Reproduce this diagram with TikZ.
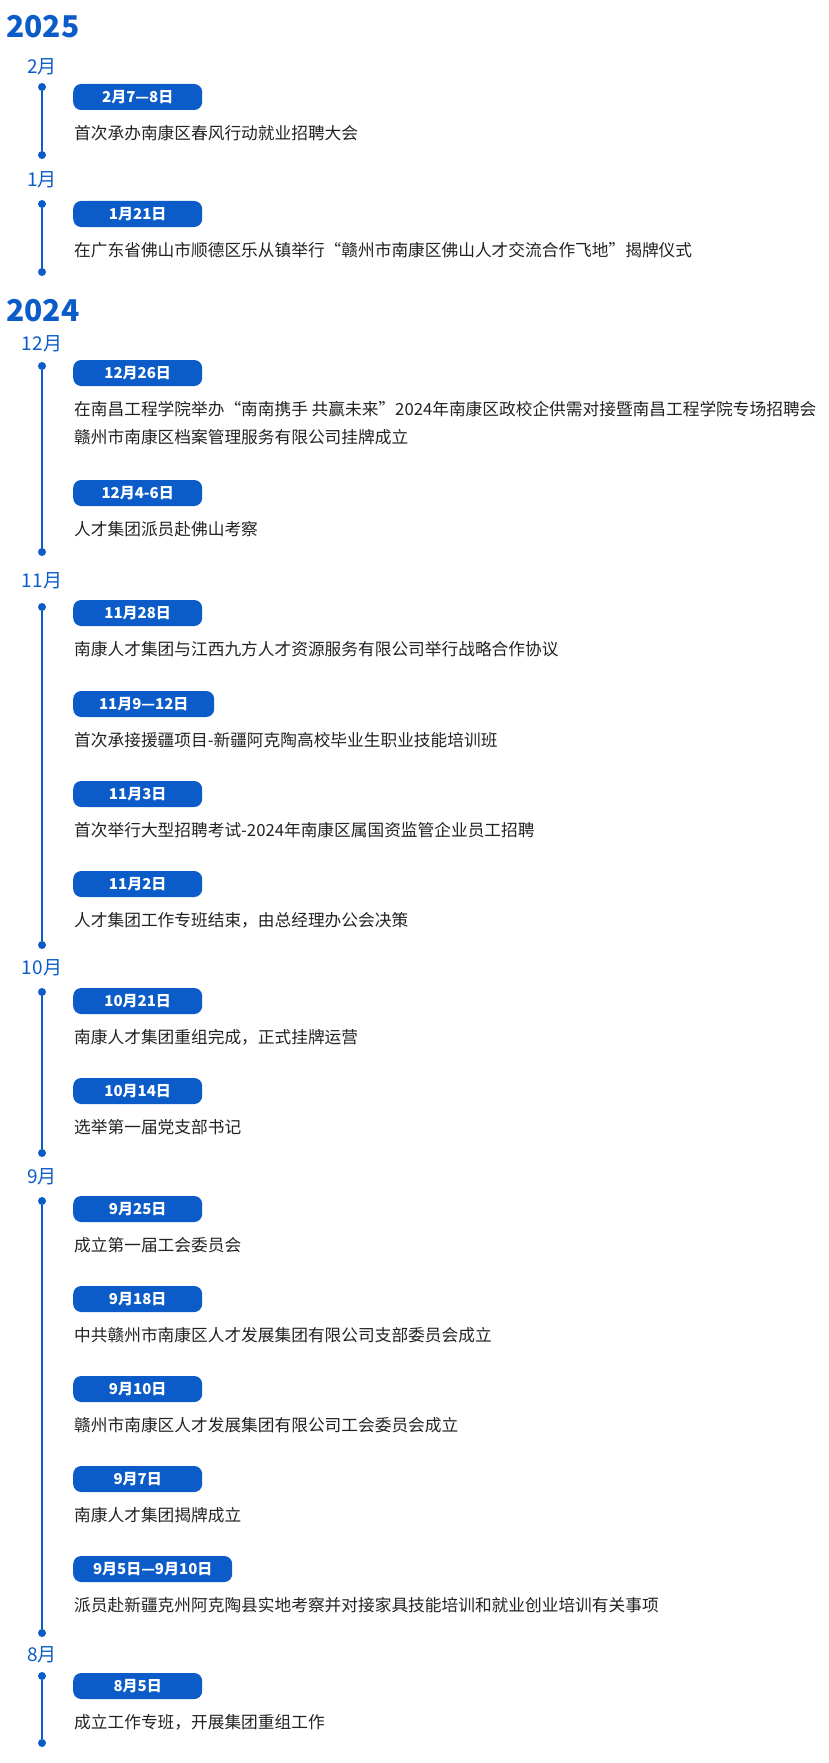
\documentclass[tikz,border=0pt]{standalone}
\usepackage{fontspec}
\setmainfont{Noto Sans CJK SC}
\definecolor{tblue}{HTML}{0B5CC8}
\definecolor{ttext}{HTML}{222222}
\tikzset{
  pill/.style={fill=tblue,rounded corners=8pt,minimum height=26pt,anchor=west,text=white,font=\fontsize{15}{17}\selectfont\bfseries,inner sep=0pt},
  desc/.style={anchor=west,text=ttext,font=\fontsize{16.7}{19}\selectfont,inner sep=0pt},
  month/.style={text=tblue,font=\fontsize{19}{21}\selectfont,inner sep=0pt},
  year/.style={text=tblue,font=\fontsize{30}{32}\selectfont\bfseries,inner sep=0pt,anchor=west},
  dotn/.style={circle,fill=tblue,minimum size=8pt,inner sep=0pt},
  tl/.style={tblue,line width=2.5pt}
}
\newcommand\ev[5]{%
  \node[pill,minimum width=#5pt] (p#1) at (73,#2) {#3};
  \node[desc] (d#1) at (74,#2+36) {#4};}
\newcommand\seg[4]{%
  \node[month] (m#1) at (42,#2) {#1};
  \node[dotn] (s#1) at (42,#3) {};
  \node[dotn] (e#1) at (42,#4) {};
  \draw[tl] (s#1) -- (e#1);}
\begin{document}
\begin{tikzpicture}[x=1pt,y=-1pt]
\useasboundingbox (0,0) rectangle (828,1763);
\node[year] (y2025) at (6,27) {2025};
\seg{2月}{67}{87}{155}
\ev{a}{97}{2月7—8日}{首次承办南康区春风行动就业招聘大会}{129}
\seg{1月}{180}{204}{272}
\ev{b}{214}{1月21日}{在广东省佛山市顺德区乐从镇举行“赣州市南康区佛山人才交流合作飞地”揭牌仪式}{129}
\node[year] (y2024) at (6,311) {2024};
\seg{12月}{344}{366}{552}
\ev{c}{373}{12月26日}{在南昌工程学院举办“南南携手 共赢未来”2024年南康区政校企供需对接暨南昌工程学院专场招聘会}{129}
\node[desc] (c2) at (74,437) {赣州市南康区档案管理服务有限公司挂牌成立};
\ev{d}{493}{12月4-6日}{人才集团派员赴佛山考察}{129}
\seg{11月}{581}{607}{945}
\ev{e}{613}{11月28日}{南康人才集团与江西九方人才资源服务有限公司举行战略合作协议}{129}
\ev{f}{704}{11月9—12日}{首次承接援疆项目-新疆阿克陶高校毕业生职业技能培训班}{141}
\ev{g}{794}{11月3日}{首次举行大型招聘考试-2024年南康区属国资监管企业员工招聘}{129}
\ev{h}{884}{11月2日}{人才集团工作专班结束，由总经理办公会决策}{129}
\seg{10月}{968}{992}{1153}
\ev{i}{1001}{10月21日}{南康人才集团重组完成，正式挂牌运营}{129}
\ev{j}{1091}{10月14日}{选举第一届党支部书记}{129}
\seg{9月}{1177}{1201}{1633}
\ev{k}{1209}{9月25日}{成立第一届工会委员会}{129}
\ev{l}{1299}{9月18日}{中共赣州市南康区人才发展集团有限公司支部委员会成立}{129}
\ev{m}{1389}{9月10日}{赣州市南康区人才发展集团有限公司工会委员会成立}{129}
\ev{n}{1479}{9月7日}{南康人才集团揭牌成立}{129}
\ev{o}{1569}{9月5日—9月10日}{派员赴新疆克州阿克陶县实地考察并对接家具技能培训和就业创业培训有关事项}{159}
\seg{8月}{1655}{1676}{1743}
\ev{q}{1686}{8月5日}{成立工作专班，开展集团重组工作}{129}
\end{tikzpicture}
\end{document}
